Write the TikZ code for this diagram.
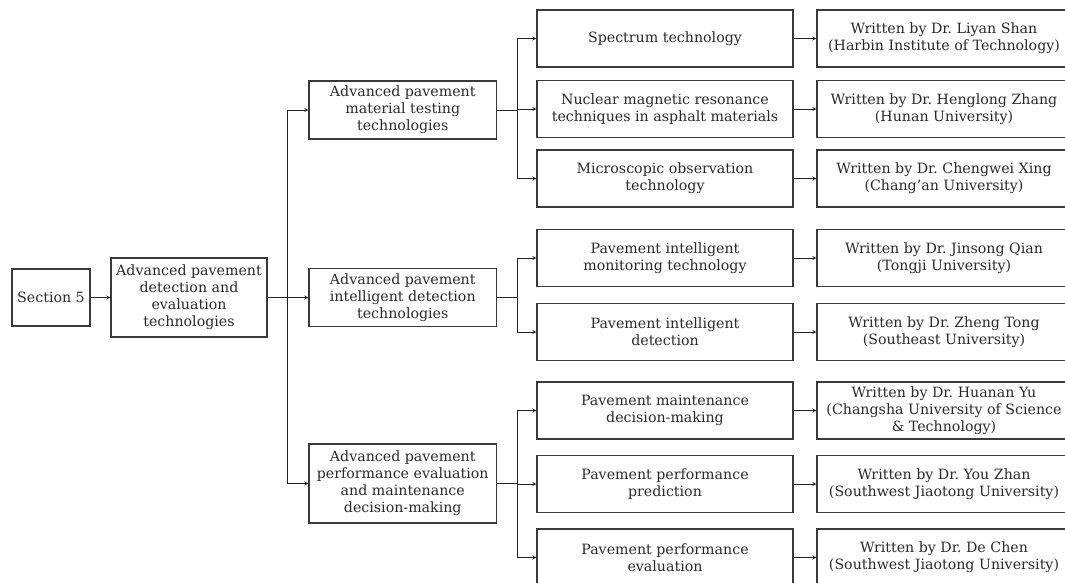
\documentclass[tikz,border=0pt]{standalone}
\usepackage{fontspec}
\setmainfont{DejaVu Serif}
\usetikzlibrary{calc}

\definecolor{linegray}{HTML}{222222}
\definecolor{boxgray}{HTML}{3A3A3A}
\definecolor{txtgray}{HTML}{2A2A2A}

\tikzset{
  box/.style={draw=boxgray, line width=1.1pt, inner sep=0pt, align=center,
    text=txtgray, font=\fontsize{14.2}{17}\selectfont,
    minimum height=57pt},
  lvlone/.style={box, minimum width=156pt, minimum height=79pt},
  lvltwo/.style={box, minimum width=187.5pt},
  lvlthree/.style={box, minimum width=256pt},
  author/.style={box, minimum width=254pt},
  link/.style={draw=linegray, line width=0.85pt},
  arr/.style={link, ->, >=stealth},
}

\begin{document}
\begin{tikzpicture}[x=1pt, y=-1pt]

    \useasboundingbox (0,0) rectangle (1065,583);
    \clip (0,0) rectangle (1065,583);

    % section
    \node[box, minimum width=78pt] (sec) at (51,297.5) {Section 5};
    \node[lvlone] (adv) at (189,297.5) {Advanced pavement\\ detection and\\ evaluation\\ technologies};

    % second column
    \node[lvltwo, minimum height=58pt] (mat) at (402.75,110) {Advanced pavement\\ material testing\\ technologies};
    \node[lvltwo, minimum height=58pt] (intel) at (402.75,297.5) {Advanced pavement\\ intelligent detection\\ technologies};
    \node[lvltwo, minimum height=79pt] (perf) at (402.75,483.5) {Advanced pavement\\ performance evaluation\\ and maintenance\\ decision-making};

    % third column
    \node[lvlthree] (spec) at (665,38.5) {Spectrum technology};
    \node[lvlthree] (nmr) at (665,109) {Nuclear magnetic resonance\\ techniques in asphalt materials};
    \node[lvlthree] (micro) at (665,178.5) {Microscopic observation\\ technology};
    \node[lvlthree] (monit) at (665,258) {Pavement intelligent\\ monitoring technology};
    \node[lvlthree] (detect) at (665,332) {Pavement intelligent\\ detection};
    \node[lvlthree] (maint) at (665,410.5) {Pavement maintenance\\ decision-making};
    \node[lvlthree] (predict) at (665,484) {Pavement performance\\ prediction};
    \node[lvlthree] (evalu) at (665,557.5) {Pavement performance\\ evaluation};

    % authors
    \node[author] (shan) at (944,38.5) {Written by Dr.\ Liyan Shan\\ (Harbin Institute of Technology)};
    \node[author] (zhang) at (944,109) {Written by Dr.\ Henglong Zhang\\ (Hunan University)};
    \node[author] (xing) at (944,178.5) {Written by Dr.\ Chengwei Xing\\ (Chang’an University)};
    \node[author] (qian) at (944,258) {Written by Dr.\ Jinsong Qian\\ (Tongji University)};
    \node[author] (tong) at (944,332) {Written by Dr.\ Zheng Tong\\ (Southeast University)};
    \node[author] (yu) at (944,410.5) {Written by Dr.\ Huanan Yu\\ (Changsha University of Science\\ \& Technology)};
    \node[author] (zhan) at (944,484) {Written by Dr.\ You Zhan\\ (Southwest Jiaotong University)};
    \node[author] (chen) at (944,557.5) {Written by Dr.\ De Chen\\ (Southwest Jiaotong University)};

    % junctions
    \coordinate (trunk) at ([xshift=20pt]adv.east);
    \coordinate (jmat) at ([xshift=20pt]mat.east);
    \coordinate (jint) at ([xshift=20pt]intel.east);
    \coordinate (jperf) at ([xshift=20pt]perf.east);

    % first level
    \draw[arr] (sec) -- (adv);
    \path[link] (adv) -- (trunk);
    \path[link] (trunk |- mat) -- (trunk |- perf);
    \draw[arr] (trunk |- mat) -- (mat);
    \draw[arr] (trunk) -- (intel);
    \draw[arr] (trunk |- perf) -- (perf);

    % material testing
    \path[link] (mat) -- (jmat);
    \path[link] (jmat |- spec) -- (jmat |- micro);
    \foreach \n in {spec,nmr,micro}
        \draw[arr] (jmat |- \n) -- (\n);

    % intelligent detection
    \path[link] (intel) -- (jint);
    \path[link] (jint |- monit) -- (jint |- detect);
    \foreach \n in {monit,detect}
        \draw[arr] (jint |- \n) -- (\n);

    % evaluation and maintenance
    \path[link] (perf) -- (jperf);
    \path[link] (jperf |- maint) -- (jperf |- evalu);
    \foreach \n in {maint,predict,evalu}
        \draw[arr] (jperf |- \n) -- (\n);

    % authors
    \draw[arr] (spec) -- (shan);
    \draw[arr] (nmr) -- (zhang);
    \draw[arr] (micro) -- (xing);
    \draw[arr] (monit) -- (qian);
    \draw[arr] (detect) -- (tong);
    \draw[arr] (maint) -- (yu);
    \draw[arr] (predict) -- (zhan);
    \draw[arr] (evalu) -- (chen);

\end{tikzpicture}
\end{document}
